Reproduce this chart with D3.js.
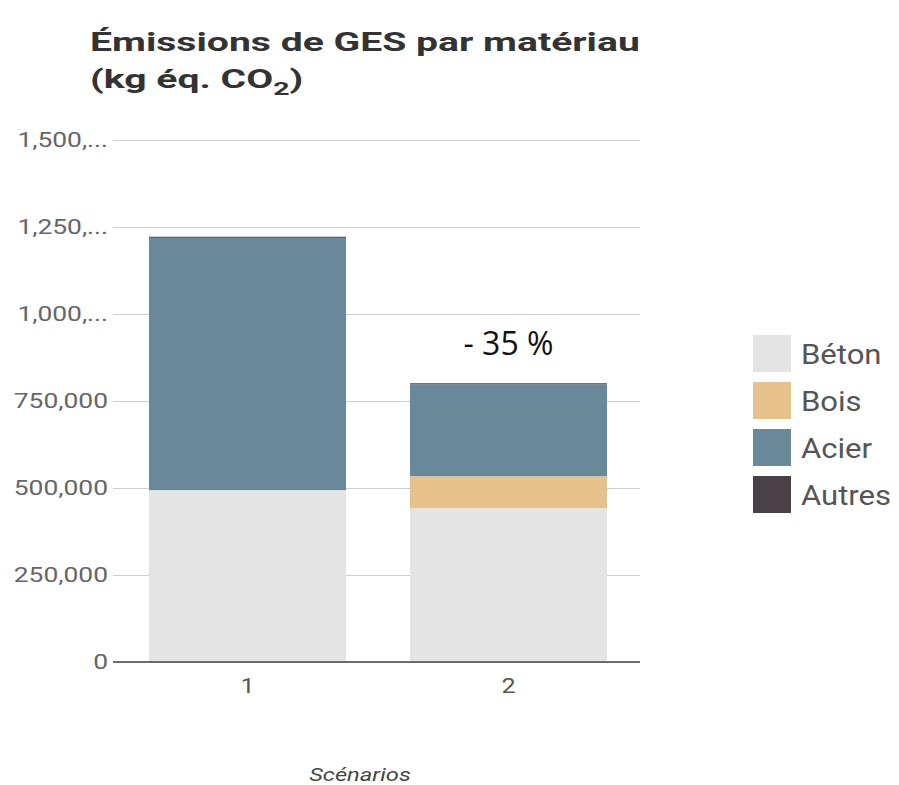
<!DOCTYPE html>
<html>
<head>
<meta charset="utf-8">
<script src="https://cdn.jsdelivr.net/npm/d3@7"></script>
<style>
  body { margin: 0; background: #fff; }
  svg { font-family: Roboto, sans-serif; }
</style>
</head>
<body>
<div id="chart"></div>
<script>
// data
const scenarios = ["1", "2"];
const materials = ["Béton", "Bois", "Acier", "Autres"];
const beton = [494000, 442000];
const bois = [0, 92000];
const acier = [725000, 264000];
const autres = [3000, 3000];
const colors = ["#e4e4e4", "#e5c18c", "#69899a", "#4b3f48"];
const tickValues = [0, 250000, 500000, 750000, 1000000, 1250000, 1500000];
const tickLabels = ["0", "250,000", "500,000", "750,000", "1,000,...", "1,250,...", "1,500,..."];

const rows = scenarios.map((s, i) => ({
    scenario: s,
    "Béton": beton[i], "Bois": bois[i], "Acier": acier[i], "Autres": autres[i]
}));

const margin = {top: 140, right: 259, bottom: 123, left: 113},
    width = 899 - margin.left - margin.right,
    height = 785 - margin.top - margin.bottom;

// the source picture is stretched sideways, so text gets widened too
function stretch(sel, k) {
    sel.each(function() {
        const w = this.getComputedTextLength();
        d3.select(this)
            .attr("textLength", w * k)
            .attr("lengthAdjust", "spacingAndGlyphs");
    });
}

const svg = d3.select("#chart")
    .append("svg")
    .attr("width", 899)
    .attr("height", 785);

const g = svg.append("g")
    .attr("transform", `translate(${margin.left},${margin.top})`);

// title
const tg = svg.append("g");
tg.append("text")
    .attr("y", 51)
    .attr("font-size", 26)
    .attr("font-weight", "bold")
    .attr("fill", "#333")
    .text("Émissions de GES par matériau");
const l2 = tg.append("text")
    .attr("y", 88)
    .attr("font-size", 26)
    .attr("font-weight", "bold")
    .attr("fill", "#333");
l2.append("tspan").text("(kg éq. CO");
l2.append("tspan").attr("font-size", 19).attr("dy", 7).text("2");
l2.append("tspan").attr("dy", -7).text(")");
const tw = tg.select("text").node().getComputedTextLength();
tg.attr("transform", `translate(90,0) scale(${550 / tw},1)`);

const y = d3.scaleLinear()
    .domain([0, 1500000])
    .range([height, 0]);

const x = d3.scaleBand()
    .domain(scenarios)
    .range([36, width - 33])
    .paddingInner(0.245)
    .paddingOuter(0);

// gridlines + y labels
const yAxis = g.append("g")
    .call(d3.axisLeft(y).tickValues(tickValues)
        .tickFormat((d, i) => tickLabels[i])
        .tickSize(-width).tickPadding(5));
yAxis.select(".domain").remove();
yAxis.selectAll("line").attr("stroke", "#cfcfcf");
yAxis.selectAll("text")
    .attr("font-size", 20)
    .attr("fill", "#666")
    .attr("font-family", "Roboto, sans-serif")
    .call(stretch, 1.32);

// stacked bars
const stack = d3.stack().keys(materials)(rows);
g.selectAll(".layer")
    .data(stack)
    .enter()
    .append("g")
    .attr("fill", (d, i) => colors[i])
    .selectAll("rect")
    .data(d => d)
    .enter()
    .append("rect")
    .attr("x", d => x(d.data.scenario))
    .attr("y", d => y(d[1]))
    .attr("width", x.bandwidth())
    .attr("height", d => y(d[0]) - y(d[1]));

// zero baseline
g.append("line")
    .attr("x1", 0).attr("x2", width)
    .attr("y1", y(0)).attr("y2", y(0))
    .attr("stroke", "#444").attr("stroke-width", 1.5);

// x labels
g.append("g")
    .attr("transform", `translate(0,${height})`)
    .call(d3.axisBottom(x).tickSize(0).tickPadding(16))
    .call(a => a.select(".domain").remove())
    .selectAll("text")
    .attr("font-size", 21)
    .attr("fill", "#555")
    .attr("font-family", "Roboto, sans-serif")
    .call(stretch, 1.2);

svg.append("text")
    .attr("x", 360)
    .attr("y", 781)
    .attr("text-anchor", "middle")
    .attr("font-size", 19)
    .attr("font-style", "italic")
    .attr("fill", "#444")
    .text("Scénarios")
    .call(stretch, 1.25);

// annotation
const total2 = beton[1] + bois[1] + acier[1] + autres[1];
g.append("text")
    .attr("x", x("2") + x.bandwidth() / 2)
    .attr("y", y(total2) - 28)
    .attr("text-anchor", "middle")
    .attr("font-family", "'Open Sans', sans-serif")
    .attr("font-size", 32)
    .attr("fill", "#111")
    .text("- 35 %");

// legend
const legend = svg.append("g")
    .attr("transform", "translate(753,335)");
const item = legend.selectAll("g")
    .data(materials)
    .enter()
    .append("g")
    .attr("transform", (d, i) => `translate(0,${i * 47})`);
item.append("rect")
    .attr("width", 38).attr("height", 37)
    .attr("fill", (d, i) => colors[i]);
item.append("text")
    .attr("x", 48).attr("y", 29)
    .attr("font-size", 27)
    .attr("fill", "#555")
    .text(d => d)
    .call(stretch, 1.15);
</script>
</body>
</html>
